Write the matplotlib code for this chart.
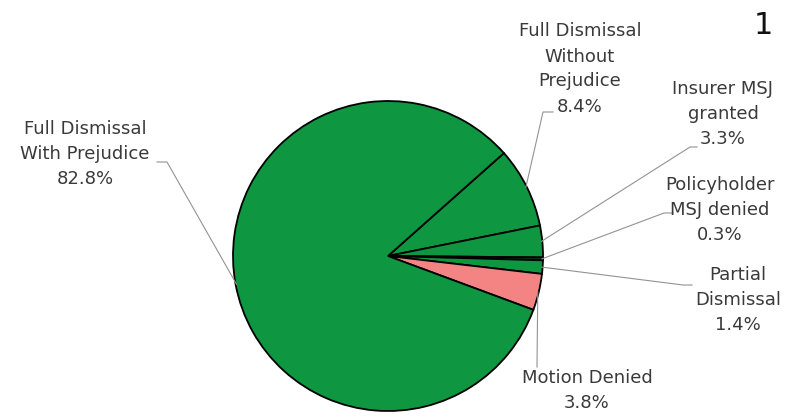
import numpy as np
import matplotlib
matplotlib.use("Agg")
import matplotlib.pyplot as plt

# ── Data ──────────────────────────────────────────────────────────────────────
labels = ["Full Dismissal\nWithout\nPrejudice", "Insurer MSJ\ngranted",
          "Policyholder\nMSJ denied", "Partial\nDismissal", "Motion Denied",
          "Full Dismissal\nWith Prejudice"]
shares = [8.4, 3.3, 0.3, 1.4, 3.8, 82.8]
colors = ["#0e9640", "#0e9640", "#0b3d1c", "#0e9640", "#f48383", "#0e9640"]

# ── Layout (pixel coords, y from top) ─────────────────────────────────────────
W, H = 786, 419
CX, CY, R = 388, 256, 155
START = 41.6

# text centre, start of leader, elbow of leader
label_pos = [(580, 69), (723, 114), (720, 210), (738, 300), (587, 390), (85, 154)]
leader_a  = [(553, 112), (697, 147), (673, 213), (692, 285), (537, 367), (157, 162)]
leader_b  = [(543, 112), (690, 147), (664, 213), (683, 285), (537, 367), (167, 162)]

plt.rcParams.update({"font.family": ["DejaVu Sans"]})

fig = plt.figure(figsize=(W / 100, H / 100), dpi=100)
ax = fig.add_axes([0, 0, 1, 1])

wedges, _ = ax.pie(shares, colors=colors, startangle=START, counterclock=False,
                   center=(CX, H - CY), radius=R,
                   wedgeprops=dict(edgecolor="black", linewidth=1.3))
ax.set_xlim(0, W)
ax.set_ylim(0, H)
ax.set_aspect("equal")
ax.axis("off")

for w, lab, val, (tx, ty), (ax0, ay0), (bx, by) in zip(
        wedges, labels, shares, label_pos, leader_a, leader_b):
    mid = np.deg2rad((w.theta1 + w.theta2) / 2)
    px = CX + (R - 1) * np.cos(mid)
    py = (H - CY) + (R - 1) * np.sin(mid)
    ax.plot([ax0, bx, px], [H - ay0, H - by, py], color="#939393", lw=0.8,
            solid_joinstyle="miter")
    ax.text(tx, H - ty, f"{lab}\n{val:.1f}%", ha="center", va="center",
            multialignment="center", fontsize=13, color="#3a3a3a",
            linespacing=1.5)

ax.text(763, H - 26, "1", ha="center", va="center", fontsize=22, color="#111111")

fig.savefig("out.png", dpi=100)
